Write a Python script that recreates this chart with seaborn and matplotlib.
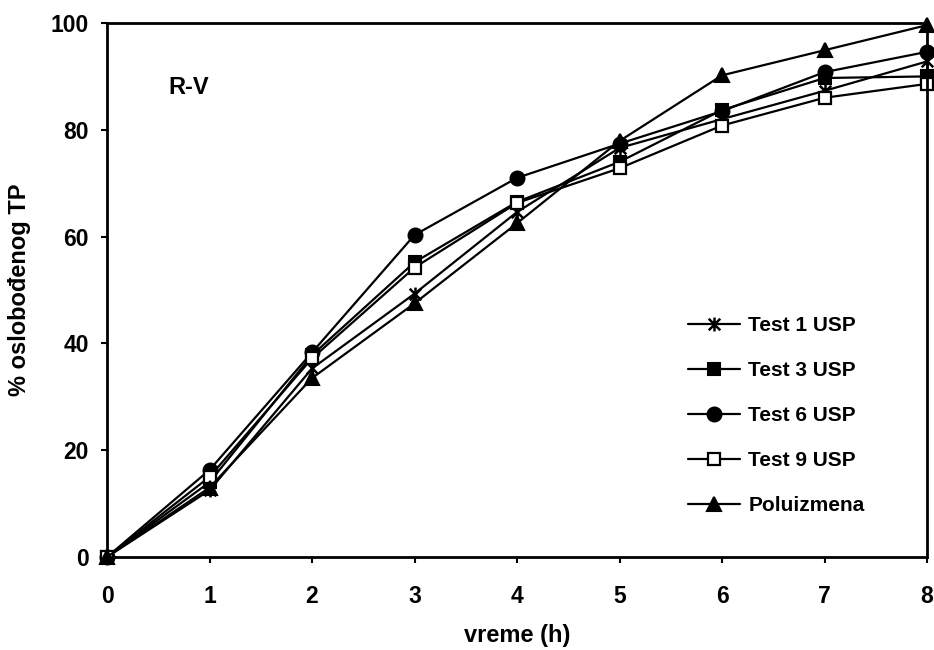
import matplotlib
matplotlib.use("Agg")
import matplotlib.pyplot as plt
from matplotlib.path import Path
import seaborn as sns
import pandas as pd

hours = [0, 1, 2, 3, 4, 5, 6, 7, 8]
test1 = [0, 12.5, 35.3, 49.3, 64.6, 76.6, 82.0, 87.3, 92.8]
test3 = [0, 14.0, 37.8, 55.2, 66.5, 74.0, 83.7, 89.7, 90.0]
test6 = [0, 16.3, 38.3, 60.3, 71.0, 77.4, 83.5, 90.8, 94.6]
test9 = [0, 15.0, 37.2, 54.2, 66.3, 72.8, 80.8, 86.0, 88.6]
polu = [0, 13.0, 33.5, 47.5, 62.5, 77.9, 90.2, 94.9, 99.6]
labels = ["Test 1 USP", "Test 3 USP", "Test 6 USP", "Test 9 USP", "Poluizmena"]
xticks = [0, 1, 2, 3, 4, 5, 6, 7, 8]
yticks = [0, 20, 40, 60, 80, 100]

sns.set_theme(style="white")
plt.rcParams['font.family'] = ['Liberation Sans', 'DejaVu Sans']
plt.rcParams['font.weight'] = 'bold'
plt.rcParams['text.color'] = 'black'
plt.rcParams['axes.labelcolor'] = 'black'
plt.rcParams['xtick.color'] = 'black'
plt.rcParams['ytick.color'] = 'black'

star = Path([(-1, -1), (1, 1), (-1, 1), (1, -1), (0, -1.2), (0, 1.2)],
            [Path.MOVETO, Path.LINETO, Path.MOVETO, Path.LINETO, Path.MOVETO, Path.LINETO])

styles = [
    dict(marker=star, markersize=10, markerfacecolor='black', markeredgewidth=1.8),
    dict(marker='s', markersize=9, markerfacecolor='black', markeredgewidth=1.5),
    dict(marker='o', markersize=10, markerfacecolor='black', markeredgewidth=1.5),
    dict(marker='s', markersize=8.5, markerfacecolor='white', markeredgewidth=1.6),
    dict(marker='^', markersize=10, markerfacecolor='black', markeredgewidth=1.5),
]
series = [test1, test3, test6, test9, polu]

fig = plt.figure(figsize=(9.34, 6.5), dpi=100)
ax = fig.add_axes([0.1146, 0.1431, 0.8779, 0.8215])

for lab, vals, st in zip(labels, series, styles):
    df = pd.DataFrame({"h": hours, "v": vals})
    sns.lineplot(data=df, x="h", y="v", ax=ax, color='black', linewidth=1.6,
                 markeredgecolor='black', label=lab, clip_on=False, **st)

ax.set_xlim(0, 8)
ax.set_ylim(0, 100)
ax.set_xticks(xticks)
ax.set_yticks(yticks)
ax.tick_params(axis='both', direction='out', length=4, width=1.5, color='black',
               labelsize=16.5, labelcolor='black', left=True, bottom=True)
ax.tick_params(axis='x', pad=16)
ax.tick_params(axis='y', pad=9)
for lbl in ax.get_xticklabels() + ax.get_yticklabels():
    lbl.set_fontweight('bold')
for sp in ax.spines.values():
    sp.set_color('black')
    sp.set_linewidth(2)
    sp.set_visible(True)

ax.set_xlabel("vreme (h)", fontsize=17, fontweight='bold', labelpad=12)
ax.set_ylabel("% oslobođenog TP", fontsize=17, fontweight='bold', labelpad=14)
ax.text(0.6, 88, "R-V", fontsize=17, fontweight='bold', ha='left', va='center')

leg = ax.legend(loc='upper left', bbox_to_anchor=(0.7085, 0.4515), frameon=False,
                fontsize=15, labelspacing=1.25, handlelength=2.5, handletextpad=0.4,
                borderaxespad=0, borderpad=0)
for t in leg.get_texts():
    t.set_fontweight('bold')

fig.savefig("out.png", dpi=100)
